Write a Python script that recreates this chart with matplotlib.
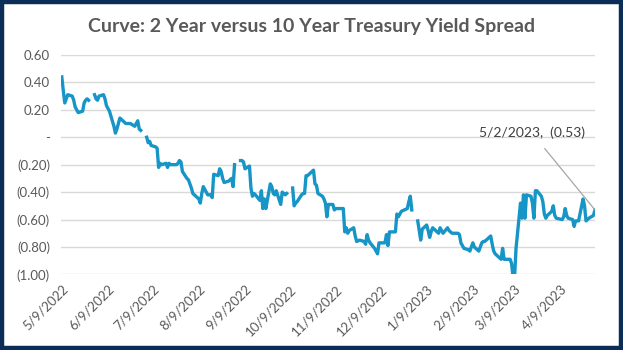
import numpy as np
import pandas as pd
import matplotlib
matplotlib.use("Agg")
import matplotlib.pyplot as plt
from matplotlib.patches import Rectangle

# 2Y-10Y spread, business days (None = market holiday -> gap in line)
dates = [
    "5/9/22", "5/10/22", "5/11/22", "5/12/22", "5/13/22",
    "5/16/22", "5/17/22", "5/18/22", "5/19/22", "5/20/22",
    "5/23/22", "5/24/22", "5/25/22", "5/26/22", "5/27/22",
    "5/30/22", "5/31/22", "6/1/22", "6/2/22", "6/3/22",
    "6/6/22", "6/7/22", "6/8/22", "6/9/22", "6/10/22",
    "6/13/22", "6/14/22", "6/15/22", "6/16/22", "6/17/22",
    "6/21/22", "6/22/22", "6/23/22", "6/24/22",
    "6/27/22", "6/28/22", "6/29/22", "6/30/22", "7/1/22",
    "7/4/22", "7/5/22", "7/6/22", "7/7/22", "7/8/22",
    "7/11/22", "7/12/22", "7/13/22", "7/14/22", "7/15/22",
    "7/18/22", "7/19/22", "7/20/22", "7/21/22", "7/22/22",
    "7/25/22", "7/26/22", "7/27/22", "7/28/22", "7/29/22",
    "8/1/22", "8/2/22", "8/3/22", "8/4/22", "8/5/22",
    "8/8/22", "8/9/22", "8/10/22", "8/11/22", "8/12/22",
    "8/15/22", "8/16/22", "8/17/22", "8/18/22", "8/19/22",
    "8/22/22", "8/23/22", "8/24/22", "8/25/22", "8/26/22",
    "8/29/22", "8/30/22", "8/31/22", "9/1/22", "9/2/22",
    "9/5/22", "9/6/22", "9/7/22", "9/8/22", "9/9/22",
    "9/12/22", "9/13/22", "9/14/22", "9/15/22", "9/16/22",
    "9/19/22", "9/20/22", "9/21/22", "9/22/22", "9/23/22",
    "9/26/22", "9/27/22", "9/28/22", "9/29/22", "9/30/22",
    "10/3/22", "10/4/22", "10/5/22", "10/6/22", "10/7/22",
    "10/10/22", "10/11/22", "10/12/22", "10/13/22", "10/14/22",
    "10/17/22", "10/18/22", "10/19/22", "10/20/22", "10/21/22",
    "10/24/22", "10/25/22", "10/26/22", "10/27/22", "10/28/22",
    "10/31/22", "11/1/22", "11/2/22", "11/3/22", "11/4/22",
    "11/7/22", "11/8/22", "11/9/22", "11/10/22",
    "11/14/22", "11/15/22", "11/16/22", "11/17/22", "11/18/22",
    "11/21/22", "11/22/22", "11/23/22", "11/25/22",
    "11/28/22", "11/29/22", "11/30/22", "12/1/22", "12/2/22",
    "12/5/22", "12/6/22", "12/7/22", "12/8/22", "12/9/22",
    "12/12/22", "12/13/22", "12/14/22", "12/15/22", "12/16/22",
    "12/19/22", "12/20/22", "12/21/22", "12/22/22", "12/23/22",
    "12/27/22", "12/28/22", "12/29/22", "12/30/22",
    "1/2/23", "1/3/23", "1/4/23", "1/5/23", "1/6/23",
    "1/9/23", "1/10/23", "1/11/23", "1/12/23", "1/13/23",
    "1/17/23", "1/18/23", "1/19/23", "1/20/23",
    "1/23/23", "1/24/23", "1/25/23", "1/26/23", "1/27/23",
    "1/30/23", "1/31/23", "2/1/23", "2/2/23", "2/3/23",
    "2/6/23", "2/7/23", "2/8/23", "2/9/23", "2/10/23",
    "2/13/23", "2/14/23", "2/15/23", "2/16/23", "2/17/23",
    "2/21/23", "2/22/23", "2/23/23", "2/24/23",
    "2/27/23", "2/28/23", "3/1/23", "3/2/23", "3/3/23",
    "3/6/23", "3/7/23", "3/8/23", "3/9/23", "3/10/23",
    "3/13/23", "3/14/23", "3/15/23", "3/16/23", "3/17/23",
    "3/20/23", "3/21/23", "3/22/23", "3/23/23", "3/24/23",
    "3/27/23", "3/28/23", "3/29/23", "3/30/23", "3/31/23",
    "4/3/23", "4/4/23", "4/5/23", "4/6/23",
    "4/10/23", "4/11/23", "4/12/23", "4/13/23", "4/14/23",
    "4/17/23", "4/18/23", "4/19/23", "4/20/23", "4/21/23",
    "4/24/23", "4/25/23", "4/26/23", "4/27/23", "4/28/23",
    "5/1/23", "5/2/23",
]

spread = [
    0.44, 0.34, 0.25, 0.28, 0.31,
    0.30, 0.27, 0.22, 0.20, 0.18,
    0.19, 0.25, 0.27, 0.28, 0.27,
    None, 0.31, 0.28, 0.27, 0.30,
    0.31, 0.28, 0.23, 0.21, 0.19,
    0.08, 0.03, 0.06, 0.10, 0.14,
    0.10, 0.10, 0.10, 0.10,
    0.08, 0.10, 0.12, 0.06, 0.05,
    None, 0.00, -0.04, -0.03, -0.06,
    -0.07, -0.08, -0.22, -0.19, -0.20,
    -0.19, -0.22, -0.19, -0.20, -0.20,
    -0.20, -0.19, -0.17, -0.18, -0.25,
    -0.30, -0.31, -0.34, -0.37, -0.41,
    -0.44, -0.45, -0.48, -0.41, -0.36,
    -0.42, -0.42, -0.42, -0.44, -0.27,
    -0.28, -0.23, -0.25, -0.30, -0.33,
    -0.32, -0.31, -0.30, -0.36, -0.20,
    None, -0.17, -0.17, -0.18, -0.23,
    -0.21, -0.37, -0.43, -0.41, -0.42,
    -0.46, -0.39, -0.52, -0.45, -0.52,
    -0.34, -0.36, -0.41, -0.42, -0.39,
    -0.49, -0.40, -0.41, -0.42, -0.41,
    None, -0.37, -0.50, -0.48, -0.47,
    -0.42, -0.41, -0.41, -0.28, -0.28,
    -0.25, -0.24, -0.34, -0.35, -0.41,
    -0.43, -0.45, -0.48, -0.58, -0.49,
    -0.49, -0.53, -0.52, -0.52,
    -0.52, -0.69, -0.66, -0.70, -0.68,
    -0.66, -0.72, -0.76, -0.75,
    -0.76, -0.78, -0.71, -0.75, -0.77,
    -0.81, -0.83, -0.85, -0.77, -0.77,
    -0.77, -0.71, -0.79, -0.69, -0.69,
    -0.69, -0.56, -0.58, -0.56, -0.54,
    -0.52, -0.47, -0.43, -0.53,
    None, -0.61, -0.68, -0.75, -0.67,
    -0.64, -0.68, -0.73, -0.69, -0.66,
    -0.70, -0.66, -0.68, -0.70,
    -0.66, -0.68, -0.69, -0.70, -0.70,
    -0.70, -0.71, -0.77, -0.79, -0.81,
    -0.82, -0.83, -0.80, -0.77, -0.80,
    -0.83, -0.80, -0.77, -0.76, -0.76,
    -0.72, -0.78, -0.83, -0.85,
    -0.88, -0.89, -0.81, -0.89, -0.89,
    -0.89, -0.92, -1.02, -1.02, -0.81,
    -0.48, -0.59, -0.42, -0.59, -0.42,
    -0.43, -0.48, -0.59, -0.39, -0.39,
    -0.43, -0.47, -0.56, -0.59, -0.57,
    -0.54, -0.50, -0.57, -0.59,
    -0.60, -0.58, -0.52, -0.57, -0.59,
    -0.60, -0.65, -0.61, -0.61, -0.61,
    -0.45, -0.50, -0.61, -0.60, -0.59,
    -0.57, -0.53,
]

tick_dates = ["5/9/2022", "6/9/2022", "7/9/2022", "8/9/2022", "9/9/2022",
              "10/9/2022", "11/9/2022", "12/9/2022", "1/9/2023", "2/9/2023",
              "3/9/2023", "4/9/2023"]
y_ticks = [0.6, 0.4, 0.2, 0.0, -0.2, -0.4, -0.6, -0.8, -1.0]

df = pd.DataFrame({"Date": pd.to_datetime(dates, format="%m/%d/%y"),
                   "Spread": [np.nan if v is None else v for v in spread]})

def fmt(v):
    # excel accounting style: zero as dash, negatives in brackets
    if abs(v) < 1e-9:
        return "-"
    if v < 0:
        return f"({abs(v):.2f})"
    return f"{v:.2f}"

text_grey = "#595959"
plt.rcParams["font.family"] = ["Lato", "DejaVu Sans"]

fig = plt.figure(figsize=(6.23, 3.5), dpi=100)
fig.patch.set_facecolor("white")
fig.patches.append(Rectangle((0.003, 0.005), 0.994, 0.99, transform=fig.transFigure,
                             fill=False, edgecolor="#0c2d57", linewidth=3.2))

ax = fig.add_axes([0.098, 0.216, 0.857, 0.627])
ax.plot(df["Date"], df["Spread"], color="#1695c6", linewidth=2.4, solid_joinstyle="round")

ax.set_ylim(-1.0, 0.6)
ax.set_xlim(pd.Timestamp("2022-05-08 12:00"), pd.Timestamp("2023-05-02"))
ax.set_yticks(y_ticks)
ax.set_yticklabels([fmt(v) for v in y_ticks], color=text_grey, fontsize=9.5)
tick_ts = pd.to_datetime(tick_dates, format="%m/%d/%Y")
ax.set_xticks(tick_ts)
ax.set_xticklabels(tick_dates, rotation=45, ha="right", va="top",
                   rotation_mode="anchor", color=text_grey, fontsize=9.5)
ax.tick_params(length=0, pad=6)
ax.tick_params(axis="y", pad=8)
ax.grid(axis="y", color="#d9d9d9", linewidth=1.0)
ax.set_axisbelow(True)
for s in ax.spines.values():
    s.set_visible(False)

fig.text(0.5, 0.925, "Curve: 2 Year versus 10 Year Treasury Yield Spread",
         ha="center", va="center", fontsize=14, fontweight="bold", color=text_grey)

last_date = df["Date"].iloc[-1]
last_val = df["Spread"].iloc[-1]
ax.annotate(f"{last_date.month}/{last_date.day}/{last_date.year},  ({abs(last_val):.2f})",
            xy=(last_date, last_val), xytext=(532 / 623, 1 - 133 / 350),
            textcoords="figure fraction", ha="center", va="center",
            fontsize=10, color="#404040",
            arrowprops=dict(arrowstyle="-", color="#a6a6a6", linewidth=0.9,
                            shrinkA=6, shrinkB=0),
            annotation_clip=False)

fig.savefig("out.png", dpi=100)
